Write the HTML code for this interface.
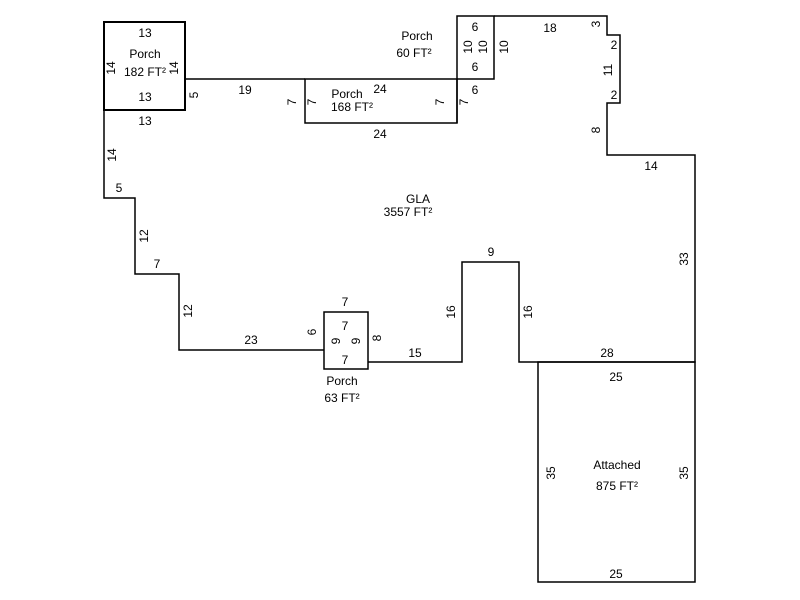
<!DOCTYPE html>
<html><head><style>html,body{margin:0;padding:0;background:#fff}svg{display:block}text{font-family:"Liberation Sans",Arial,sans-serif;font-size:12px;fill:#000;text-anchor:middle}</style></head>
<body>
<svg width="800" height="600" viewBox="0 0 800 600" xmlns="http://www.w3.org/2000/svg">
<g fill="none" stroke="#000" stroke-width="1.5">
<!-- porch 182 -->
<rect x="104" y="22" width="81" height="88" stroke-width="2"/>
<!-- GLA outline -->
<polyline points="185,79 305,79"/>
<polyline points="104,110 104,198 135,198 135,274 179,274 179,350 324,350"/>
<polyline points="368,362 462,362 462,262 519,262 519,362 695,362 695,155 607,155 607,103 620,103 620,35 607,35 607,16 494,16"/>
<!-- porch 168 -->
<rect x="305" y="79" width="152" height="44"/>
<line x1="457" y1="79" x2="457" y2="123"/>
<!-- porch 60 -->
<rect x="457" y="16" width="37" height="63"/>
<!-- porch 63 -->
<rect x="324" y="312" width="44" height="57"/>
<!-- attached -->
<rect x="538" y="362" width="157" height="220"/>
</g>
<text x="145" y="37">13</text>
<text x="145" y="58">Porch</text>
<text x="145" y="76">182 FT²</text>
<text x="145" y="101">13</text>
<text x="145" y="125">13</text>
<text transform="translate(115,68) rotate(-90)">14</text>
<text transform="translate(178,68) rotate(-90)">14</text>
<text transform="translate(198,95) rotate(-90)">5</text>
<text x="245" y="94">19</text>
<text transform="translate(296,102) rotate(-90)">7</text>
<text transform="translate(316,102) rotate(-90)">7</text>
<text x="347" y="98">Porch</text>
<text x="352" y="111">168 FT²</text>
<text x="380" y="93">24</text>
<text x="380" y="138">24</text>
<text transform="translate(444,102) rotate(-90)">7</text>
<text transform="translate(468,102) rotate(-90)">7</text>
<text x="417" y="40">Porch</text>
<text x="414" y="57">60 FT²</text>
<text x="475" y="31">6</text>
<text x="475" y="71">6</text>
<text x="475" y="94">6</text>
<text transform="translate(472,47) rotate(-90)">10</text>
<text transform="translate(487,47) rotate(-90)">10</text>
<text transform="translate(508,47) rotate(-90)">10</text>
<text x="550" y="32">18</text>
<text transform="translate(600,24) rotate(-90)">3</text>
<text x="614" y="49">2</text>
<text transform="translate(612,70) rotate(-90)">11</text>
<text x="614" y="99">2</text>
<text transform="translate(600,130) rotate(-90)">8</text>
<text x="651" y="170">14</text>
<text transform="translate(688,259) rotate(-90)">33</text>
<text x="418" y="203">GLA</text>
<text x="408" y="216">3557 FT²</text>
<text transform="translate(116,155) rotate(-90)">14</text>
<text x="119" y="192">5</text>
<text transform="translate(148,236) rotate(-90)">12</text>
<text x="157" y="268">7</text>
<text transform="translate(192,311) rotate(-90)">12</text>
<text x="251" y="344">23</text>
<text transform="translate(316,332) rotate(-90)">6</text>
<text x="345" y="306">7</text>
<text x="345" y="330">7</text>
<text x="345" y="364">7</text>
<text transform="translate(340,341) rotate(-90)">9</text>
<text transform="translate(360,341) rotate(-90)">9</text>
<text transform="translate(381,338) rotate(-90)">8</text>
<text x="342" y="385">Porch</text>
<text x="342" y="402">63 FT²</text>
<text x="415" y="357">15</text>
<text transform="translate(455,312) rotate(-90)">16</text>
<text x="491" y="256">9</text>
<text transform="translate(532,312) rotate(-90)">16</text>
<text x="607" y="357">28</text>
<text x="616" y="381">25</text>
<text x="617" y="469">Attached</text>
<text x="617" y="490">875 FT²</text>
<text transform="translate(555,473) rotate(-90)">35</text>
<text transform="translate(688,473) rotate(-90)">35</text>
<text x="616" y="578">25</text>
</svg>
</body></html>
